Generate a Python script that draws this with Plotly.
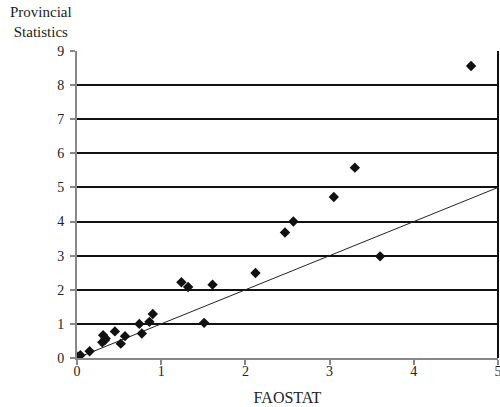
import plotly.graph_objects as go

faostat = [0.01, 0.04, 0.15, 0.30, 0.31, 0.34, 0.33, 0.45, 0.52, 0.57, 0.74, 0.77, 0.86, 0.90,
           1.24, 1.32, 1.51, 1.61, 2.12, 2.47, 2.57, 3.05, 3.30, 3.60, 4.68]
provincial = [0.035, 0.08, 0.20, 0.46, 0.67, 0.57, 0.52, 0.78, 0.42, 0.64, 1.00, 0.72, 1.06, 1.29,
              2.22, 2.08, 1.03, 2.15, 2.49, 3.68, 4.00, 4.72, 5.58, 2.98, 8.56]
line_x = [0, 5]
line_y = [0, 5]
x_ticks = [0, 1, 2, 3, 4, 5]
y_ticks = [0, 1, 2, 3, 4, 5, 6, 7, 8, 9]

FAM = "Liberation Serif, Times New Roman, serif"
tick_font = dict(family=FAM, size=14, color="#222")

fig = go.Figure()
fig.add_trace(go.Scatter(x=line_x, y=line_y, mode="lines",
                         line=dict(color="#222", width=1), showlegend=False, hoverinfo="skip"))
fig.add_trace(go.Scatter(x=faostat, y=provincial, mode="markers",
                         marker=dict(symbol="diamond", size=8, color="#111"), showlegend=False))

fig.update_layout(
    width=500, height=407,
    margin=dict(l=77, r=2, t=51, b=49),
    plot_bgcolor="white", paper_bgcolor="white",
    font=tick_font,
    xaxis=dict(range=[0, 5], tickvals=x_ticks, showgrid=False, zeroline=False,
               showline=True, linecolor="#888", linewidth=2, tickfont=tick_font,
               ticks="outside", ticklen=5, tickcolor="#888", tickwidth=1.5,
               ticklabelstandoff=-6, ticklabeloverflow="allow", automargin=False,
               title=dict(text="FAOSTAT", font=dict(family=FAM, size=16, color="#222"), standoff=14)),
    yaxis=dict(range=[0, 9], tickvals=y_ticks, showgrid=True, gridcolor="#111", gridwidth=2,
               zeroline=False, showline=True, linecolor="#888", linewidth=2, tickfont=tick_font,
               ticks="outside", ticklen=5, tickcolor="#888", tickwidth=1.5,
               ticklabelstandoff=3, automargin=False),
    shapes=[dict(type="line", xref="paper", yref="paper", x0=1, x1=1, y0=0, y1=1,
                 line=dict(color="#111", width=2))],
    annotations=[dict(text="Provincial<br>Statistics", xref="paper", yref="paper",
                      x=-0.0855, y=1.0, yshift=9, xanchor="center", yanchor="bottom",
                      showarrow=False, font=dict(family=FAM, size=15, color="#222"),
                      align="center")],
)

fig.write_html("out.html", config={"displayModeBar": False},
               post_script="document.body.style.margin='0';document.body.style.overflow='hidden';")
